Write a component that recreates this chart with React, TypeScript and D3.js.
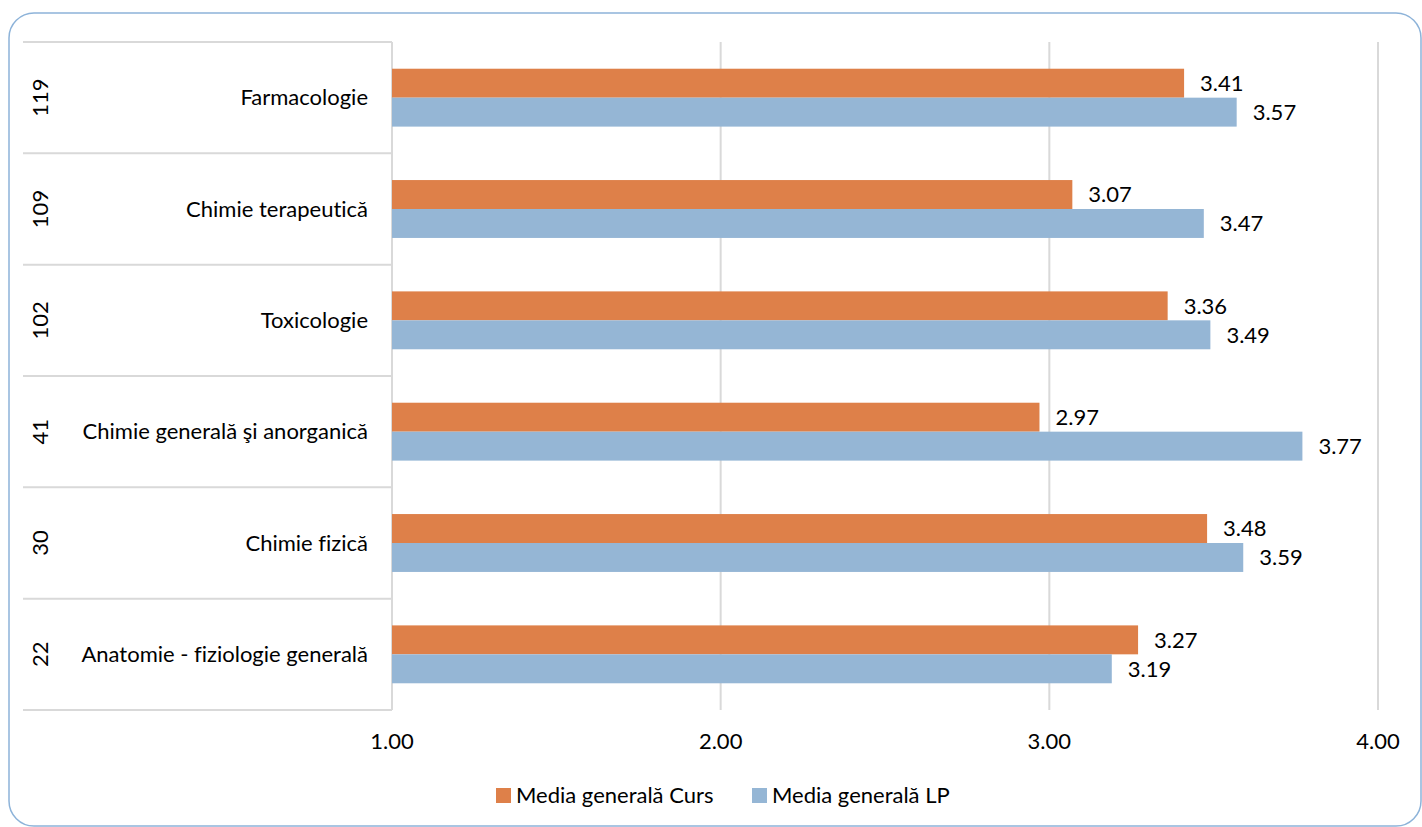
import React from "react";
import * as d3 from "d3";

const categories = [
  "Farmacologie",
  "Chimie terapeutică",
  "Toxicologie",
  "Chimie generală şi anorganică",
  "Chimie fizică",
  "Anatomie - fiziologie generală",
];
const codes = ["119", "109", "102", "41", "30", "22"];
const seriesNames = ["Media generală Curs", "Media generală LP"];
const cursValues = [3.41, 3.07, 3.36, 2.97, 3.48, 3.27];
const lpValues = [3.57, 3.47, 3.49, 3.77, 3.59, 3.19];
const xTicks = [1, 2, 3, 4];
const colors = ["#DE8049", "#95B6D5"];

const W = 1422;
const H = 827;
const FONT = "Lato, 'Noto Sans', sans-serif";
const FS = 22;

export default function App() {
  const x = d3.scaleLinear().domain([1, 4]).range([392, 1378]);
  const y = d3
    .scaleBand<string>()
    .domain(categories)
    .range([42, 710])
    .paddingInner(0.48)
    .paddingOuter(0.24);
  const inner = d3
    .scaleBand<string>()
    .domain(seriesNames)
    .range([0, y.bandwidth()]);
  const step = y.step();
  const series = [cursValues, lpValues];
  const fmt = d3.format(".2f");

  const boundaries = d3.range(categories.length + 1).map((i) => 42 + i * step);
  const txt = {
    fontFamily: FONT,
    fontSize: FS,
    fill: "#000",
    style: { fontVariantLigatures: "none" as const },
  };

  return (
    <div style={{ position: "absolute", left: 0, top: 0 }}>
      <svg width={W} height={H} style={{ display: "block", background: "#fff" }}>
        <rect x={9} y={13} width={1412} height={813} rx={25} ry={25} fill="#fff" stroke="#8DB3D9" strokeWidth={1.5} />
        {/* vertical gridlines */}
        {xTicks.map((t) => (
          <line key={t} x1={x(t)} x2={x(t)} y1={42} y2={710} stroke="#D9D9D9" strokeWidth={2} />
        ))}
        {/* category axis separators */}
        {boundaries.map((b, i) => (
          <line key={i} x1={23} x2={392} y1={b} y2={b} stroke="#D9D9D9" strokeWidth={2} />
        ))}
        {/* bars */}
        {categories.map((c, ci) =>
          series.map((vals, si) => {
            const y0 = (y(c) as number) + (inner(seriesNames[si]) as number);
            const h = inner.bandwidth();
            return (
              <g key={c + si}>
                <rect x={x(1)} y={y0} width={x(vals[ci]) - x(1)} height={h} fill={colors[si]} />
                <text x={x(vals[ci]) + 16} y={y0 + h / 2} dy="0.35em" {...txt}>
                  {fmt(vals[ci])}
                </text>
              </g>
            );
          })
        )}
        {/* category labels */}
        {categories.map((c, ci) => {
          const cy = (y(c) as number) + y.bandwidth() / 2;
          return (
            <g key={c}>
              <text x={368} y={cy} dy="0.35em" textAnchor="end" {...txt}>
                {c}
              </text>
              <text transform={`translate(40,${cy}) rotate(-90)`} textAnchor="middle" dy="0.35em" {...txt}>
                {codes[ci]}
              </text>
            </g>
          );
        })}
        {/* x tick labels */}
        {xTicks.map((t) => (
          <text key={t} x={x(t)} y={741} dy="0.35em" textAnchor="middle" {...txt}>
            {fmt(t)}
          </text>
        ))}
        {/* legend */}
        <g>
          <rect x={496} y={788} width={15} height={15} fill={colors[0]} />
          <text x={516} y={795.5} dy="0.35em" {...txt}>
            {seriesNames[0]}
          </text>
          <rect x={752} y={788} width={15} height={15} fill={colors[1]} />
          <text x={772} y={795.5} dy="0.35em" {...txt}>
            {seriesNames[1]}
          </text>
        </g>
      </svg>
    </div>
  );
}
